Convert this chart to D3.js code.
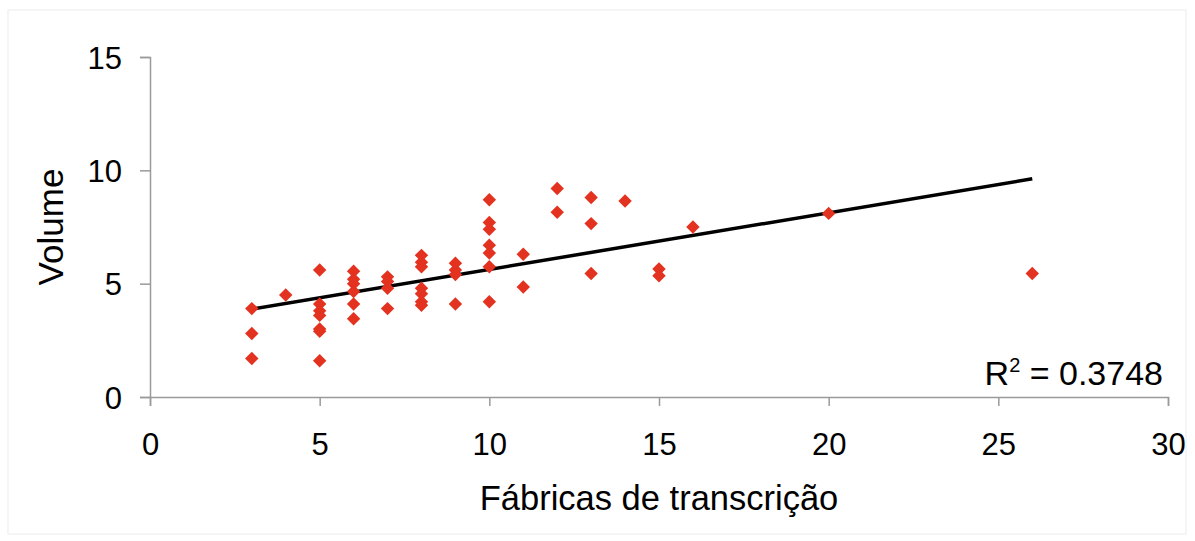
<!DOCTYPE html>
<html>
<head>
<meta charset="utf-8">
<script src="https://cdn.jsdelivr.net/npm/d3@7"></script>
<style>
  body { margin: 0; background: #fff; }
  text { font-family: "Liberation Sans", Arial, sans-serif; fill: #000; }
</style>
</head>
<body>
<svg id="chart" width="1195" height="541"></svg>
<script>
// fábricas de transcrição (x) vs volume (y)
const factories = [3,3,3, 4, 5,5,5,5,5,5,5, 6,6,6,6,6,6, 7,7,7,7, 8,8,8,8,8,8,8,
  9,9,9,9, 10,10,10,10,10,10,10, 11,11, 12,12, 13,13,13, 14, 15,15, 16, 20, 26];
const volumes = [3.9,2.8,1.7, 4.5, 5.6,4.1,3.8,3.6,3.0,2.9,1.6, 5.55,5.2,5.0,4.65,4.1,3.45,
  5.3,5.1,4.8,3.9, 6.25,5.95,5.75,4.8,4.55,4.2,4.05,
  5.9,5.6,5.4,4.1, 8.7,7.7,7.4,6.7,6.35,5.75,4.2, 6.3,4.85, 9.2,8.15,
  8.8,7.65,5.45, 8.65, 5.65,5.35, 7.5, 8.1, 5.45];
const xTicks = [0, 5, 10, 15, 20, 25, 30];
const yTicks = [0, 5, 10, 15];
const r2Label = "0.3748";

const data = factories.map((f, i) => ({ x: f, y: volumes[i] }));

const svg = d3.select("#chart");
const margin = { left: 150, right: 27, top: 57, bottom: 144 };
const width = 1195, height = 541;

// faint outer frame
svg.append("rect")
   .attr("x", 8).attr("y", 10)
   .attr("width", 1178).attr("height", 524)
   .attr("fill", "none")
   .attr("stroke", "#ececec");

const x = d3.scaleLinear().domain([0, 30]).range([margin.left, width - margin.right]);
const y = d3.scaleLinear().domain([0, 15]).range([height - margin.bottom, margin.top]);

const xAxis = svg.append("g")
   .attr("transform", `translate(0,${y(0)})`)
   .call(d3.axisBottom(x).tickValues(xTicks).tickSize(9).tickPadding(27));

const yAxis = svg.append("g")
   .attr("transform", `translate(${x(0)},0)`)
   .call(d3.axisLeft(y).tickValues(yTicks).tickSize(10).tickPadding(18));

[xAxis, yAxis].forEach(g => {
  g.select(".domain").attr("stroke", "#9a9a9a").attr("stroke-width", 1.5);
  g.selectAll(".tick line").attr("stroke", "#9a9a9a").attr("stroke-width", 1.5);
  g.selectAll(".tick text")
   .style("font-family", "'Liberation Sans', Arial, sans-serif")
   .style("font-size", "31px")
   .attr("fill", "#000");
});
yAxis.selectAll(".tick text").attr("dy", "0.36em");

// least squares trend line
const mx = d3.mean(factories), my = d3.mean(volumes);
const sxy = d3.sum(data, d => (d.x - mx) * (d.y - my));
const sxx = d3.sum(data, d => (d.x - mx) ** 2);
const slope = sxy / sxx, intercept = my - slope * mx;
const xExt = d3.extent(factories);

svg.append("line")
   .attr("x1", x(xExt[0])).attr("y1", y(intercept + slope * xExt[0]))
   .attr("x2", x(xExt[1])).attr("y2", y(intercept + slope * xExt[1]))
   .attr("stroke", "#000")
   .attr("stroke-width", 3.5);

const diamond = d3.symbol().type(d3.symbolSquare).size(90);
svg.selectAll(".pt")
   .data(data)
   .enter().append("path")
   .attr("class", "pt")
   .attr("d", diamond)
   .attr("transform", d => `translate(${x(d.x)},${y(d.y)}) rotate(45)`)
   .attr("fill", "#e3321f");

// R² label
const r2 = svg.append("text")
   .attr("x", 1163).attr("y", 385)
   .attr("text-anchor", "end")
   .style("font-size", "34px");
r2.append("tspan").text("R");
r2.append("tspan").attr("dy", -13).style("font-size", "20px").text("2");
r2.append("tspan").attr("dy", 13).text(" = " + r2Label);

svg.append("text")
   .attr("x", (x(0) + x(30)) / 2).attr("y", 510)
   .attr("text-anchor", "middle")
   .style("font-size", "34.5px")
   .text("Fábricas de transcrição");

svg.append("text")
   .attr("transform", `translate(63,${(y(0) + y(15)) / 2}) rotate(-90)`)
   .attr("text-anchor", "middle")
   .style("font-size", "35px")
   .text("Volume");
</script>
</body>
</html>
